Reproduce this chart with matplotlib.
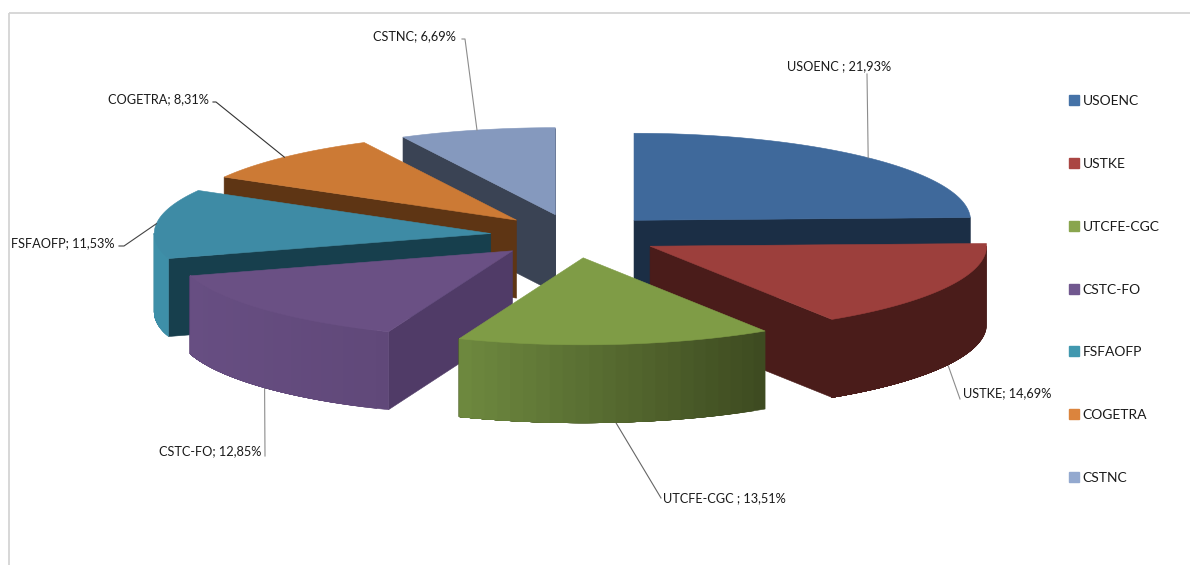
import numpy as np
import matplotlib
matplotlib.use('Agg')
import matplotlib.pyplot as plt
from matplotlib.colors import to_rgb
from matplotlib.lines import Line2D
from matplotlib.patches import Polygon, Rectangle

plt.rcParams['font.family'] = ['Lato', 'DejaVu Sans']

names = ['USOENC', 'USTKE', 'UTCFE-CGC', 'CSTC-FO', 'FSFAOFP', 'COGETRA', 'CSTNC']
values = [21.93, 14.69, 13.51, 12.85, 11.53, 8.31, 6.69]
label_texts = ['USOENC ; 21,93%', 'USTKE; 14,69%', 'UTCFE-CGC ; 13,51%', 'CSTC-FO; 12,85%',
               'FSFAOFP; 11,53%', 'COGETRA; 8,31%', 'CSTNC; 6,69%']

# colours
legend_colors = ['#4572A7', '#AA4643', '#89A54E', '#71588F', '#4198AF', '#DB843D', '#93A9CF']
top_colors = ['#3F699B', '#9C3F3C', '#7F9C46', '#6A5084', '#3E8BA5', '#CC7A35', '#8599BE']
cut_colors = ['#1B2E45', '#4A1C1A', '#3D4A20', '#503B67', '#173F4D', '#5E3514', '#3A4354']
wall_left = ['#1B2E45', '#4A1C1A', '#6E893F', '#674E82', '#3E8FA8', '#5E3514', '#3A4354']
wall_right = ['#1B2E45', '#4A1C1A', '#3D4A20', '#604879', '#3E8FA8', '#5E3514', '#3A4354']

# pie geometry in pixels
cx, cy = 575, 236
rx, ry = 336.5, 87
depth = 78
explode = 0.252
draw_order = [0, 6, 5, 4, 3, 1, 2]

# label anchor (end of the leader) and text position, same order as names
leader_ends = [(867, 74), (960, 399), (661, 498), (265, 456), (124, 246), (216, 102), (465, 39)]
leader_stubs = [None, None, None, None, (119, 246), (213, 102), (462, 39)]
leader_colors = ['#8c8c8c', '#8c8c8c', '#666666', '#8c8c8c', '#444444', '#333333', '#8c8c8c']
text_pos = [(787, 66), (963, 393), (663, 498), (159, 451), (11, 243), (108, 99), (373, 36)]

fig = plt.figure(figsize=(11.9, 5.65), dpi=100)
ax = fig.add_axes([0, 0, 1, 1])
ax.set_xlim(0, 1190)
ax.set_ylim(565, 0)
ax.axis('off')

ax.add_patch(Rectangle((8.5, 12.5), 1300, 700, fill=False, ec='#d4d4d4', lw=1.3))

shares = np.array(values) / sum(values) * 360
ends = np.cumsum(shares)
starts = ends - shares


def pt(ox, oy, deg, drop=0):
    a = np.radians(deg)
    return ox + rx * np.sin(a), oy - ry * np.cos(a) + drop


def poly(points, color, z):
    ax.add_patch(Polygon(points, closed=True, fc=color, ec=color, lw=0.4, zorder=z))


def wall(ox, oy, a, b, color, z):
    arc = np.linspace(a, b, 40)
    upper = [pt(ox, oy, e) for e in arc]
    lower = [pt(ox, oy, e, depth) for e in arc[::-1]]
    poly(upper + lower, color, z)


for z, i in enumerate(draw_order):
    z = z * 10 + 2
    a0, a1 = starts[i], ends[i]
    mid = (a0 + a1) / 2
    ox, oy = pt(0, 0, mid)
    ox, oy = cx + ox * explode, cy + oy * explode

    # cut faces, the start face looks at us on the left half, the end face on the right
    for edge, show in ((a0, np.sin(np.radians(a0)) < 0), (a1, np.sin(np.radians(a1)) > 0)):
        if show:
            p = pt(ox, oy, edge)
            poly([(ox, oy), p, (p[0], p[1] + depth), (ox, oy + depth)], cut_colors[i], z)

    # outer wall, each band painted over the rest so there are no seams
    w0, w1 = max(a0, 90), min(a1, 270)
    if w1 > w0:
        cl, cr = np.array(to_rgb(wall_left[i])), np.array(to_rgb(wall_right[i]))
        edges = np.linspace(w0, w1, 25)
        x_left = min(pt(ox, oy, w0)[0], pt(ox, oy, w1)[0])
        x_right = max(pt(ox, oy, w0)[0], pt(ox, oy, w1)[0])
        # walk from the right side of the wall to the left (clockwise on screen)
        for a, b in zip(edges[:-1], edges[1:]):
            f = (pt(ox, oy, (a + b) / 2)[0] - x_left) / (x_right - x_left)
            wall(ox, oy, a, w1, tuple(cl + (cr - cl) * f), z + 1)

    # top face
    arc = [pt(ox, oy, e) for e in np.linspace(a0, a1, 80)]
    poly([(ox, oy)] + arc, top_colors[i], z + 2)

    # leader from the slice edge to its label, front slices hook on the bottom of the wall
    drop = depth if 90 < mid < 270 else 0
    tip = pt(ox, oy, mid, drop)
    lx = [tip[0], leader_ends[i][0]]
    ly = [tip[1], leader_ends[i][1]]
    if leader_stubs[i]:
        lx.append(leader_stubs[i][0])
        ly.append(leader_stubs[i][1])
    ax.plot(lx, ly, color=leader_colors[i], lw=0.8, zorder=z - 1 if drop else 100)
    ax.text(text_pos[i][0], text_pos[i][1], label_texts[i], fontsize=9.2, color='#1a1a1a',
            va='center', ha='left', zorder=200)

handles = [Line2D([], [], ls='none', marker='s', ms=6.8, mfc=c, mec=c) for c in legend_colors]
ax.legend(handles, names, loc='upper left', bbox_to_anchor=(1068 / 1190, 1 - 95 / 565),
          frameon=False, fontsize=10, labelspacing=3.66, handlelength=0.8, handletextpad=0.25,
          borderpad=0, borderaxespad=0, labelcolor='#1a1a1a')

fig.savefig('out.png', dpi=100)
